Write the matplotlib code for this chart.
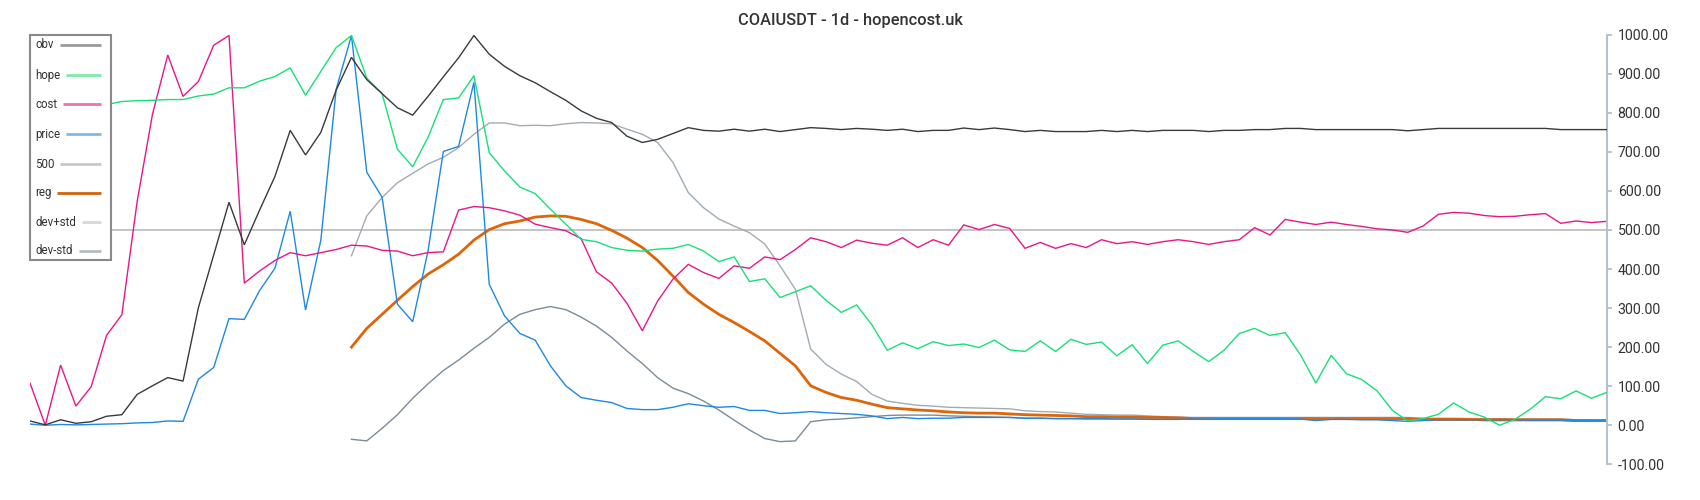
import numpy as np
import matplotlib
matplotlib.use("Agg")
import matplotlib.pyplot as plt
from matplotlib.lines import Line2D
from matplotlib.patches import Rectangle
from matplotlib.ticker import FixedLocator, FuncFormatter

plt.rcParams['font.family'] = ['Roboto', 'DejaVu Sans']

nan = np.nan

obv = [11, 1, 14, 5, 9, 23, 27, 79, 101, 122, 113, 301, 436, 571, 462, 551, 637, 755, 692, 750,
       858, 942, 885, 849, 813, 794, 842, 892, 941, 998, 950, 919, 895, 877, 854, 832, 805, 786, 775, 740,
       724, 732, 747, 762, 755, 753, 758, 753, 758, 752, 757, 762, 760, 757, 760, 758, 755, 758, 752, 755,
       755, 761, 757, 761, 757, 752, 755, 752, 752, 752, 755, 752, 755, 752, 755, 755, 755, 752, 755, 755,
       757, 757, 760, 760, 757, 757, 757, 757, 757, 757, 754, 757, 760, 760, 760, 760, 760, 760, 760, 760,
       757, 757, 757, 757]

hope = [800, 808, 812, 815, 818, 821, 829, 831, 832, 834, 834, 843, 848, 864, 864, 881, 893, 915, 845, 906,
        967, 998, 889, 849, 707, 662, 737, 834, 838, 895, 698, 651, 610, 593, 553, 515, 476, 470, 455, 448,
        446, 451, 453, 463, 446, 419, 431, 368, 375, 327, 342, 357, 320, 289, 308, 257, 192, 211, 196, 214,
        204, 208, 199, 218, 193, 189, 216, 189, 220, 207, 213, 178, 206, 158, 205, 216, 189, 163, 192, 235,
        248, 230, 237, 180, 108, 179, 132, 117, 88, 38, 11, 17, 28, 57, 34, 21, 0, 15, 41, 73,
        68, 88, 69, 84]

cost = [108, 0, 154, 49, 99, 230, 283, 573, 796, 948, 842, 880, 973, 998, 364, 395, 422, 442, 434, 442,
        450, 461, 459, 448, 446, 434, 442, 444, 551, 560, 557, 549, 538, 515, 506, 498, 478, 393, 364, 312,
        242, 318, 374, 412, 391, 376, 408, 402, 431, 424, 450, 480, 470, 455, 474, 466, 461, 480, 455, 475,
        461, 513, 501, 514, 504, 453, 468, 453, 465, 455, 475, 465, 470, 463, 470, 475, 470, 463, 470, 475,
        506, 487, 527, 520, 514, 520, 514, 509, 503, 500, 494, 510, 540, 545, 543, 537, 534, 535, 539, 542,
        517, 523, 519, 522]

price = [3, 0, 2, 1, 2, 3, 4, 6, 7, 11, 10, 118, 148, 273, 271, 345, 402, 548, 295, 474,
         860, 998, 648, 584, 310, 265, 446, 701, 714, 878, 361, 280, 235, 218, 152, 101, 71, 64, 58, 43,
         40, 40, 46, 55, 50, 46, 48, 38, 38, 30, 32, 35, 32, 30, 28, 24, 17, 20, 17, 18,
         18, 20, 20, 20, 20, 18, 18, 17, 17, 17, 17, 16, 16, 15, 15, 15, 16, 16, 17, 17,
         17, 17, 17, 16, 12, 15, 15, 14, 14, 12, 10, 12, 14, 14, 14, 14, 14, 14, 13, 13,
         13, 12, 12, 12]

level500 = [500] * 104

reg = [nan] * 21 + [200, 248, 284, 320, 355, 387, 411, 438, 474,
       501, 516, 523, 533, 536, 535, 527, 516, 499, 479, 455, 422, 382, 340, 310, 284, 263, 240, 216, 184,
       152, 101, 84, 71, 64, 54, 45, 42, 39, 37, 34, 32, 31, 31, 29, 27, 26, 25, 24, 22,
       22, 21, 21, 20, 20, 19, 17, 17, 17, 17, 17, 17, 17, 17, 17, 17, 17, 17, 17, 17,
       17, 15, 15, 15, 15, 14, 14, 14, 14, 14, 14, 12, 12, 12]

dev_plus = [nan] * 21 + [434, 536, 583, 621, 645, 669, 686, 711, 745,
            774, 774, 767, 768, 767, 772, 775, 774, 772, 758, 745, 724, 673, 596, 557, 528, 510, 493, 464, 408,
            348, 195, 156, 131, 112, 79, 62, 56, 51, 49, 46, 45, 44, 43, 42, 37, 35, 34, 31, 28,
            27, 26, 26, 24, 22, 21, 20, 20, 20, 20, 20, 20, 20, 20, 20, 20, 20, 20, 20, 20,
            20, 18, 18, 18, 17, 17, 17, 16, 16, 16, 16, 14, 14, 14]

dev_minus = [nan] * 21 + [-36, -40, -8, 27, 69, 106, 140, 167, 197,
             225, 259, 284, 296, 304, 296, 277, 254, 225, 190, 158, 122, 95, 81, 62, 39, 13, -12, -34, -42,
             -40, 9, 14, 16, 19, 22, 25, 26, 26, 26, 24, 23, 22, 21, 20, 18, 18, 17, 17, 16,
             16, 16, 16, 16, 16, 16, 15, 15, 15, 15, 15, 15, 15, 15, 15, 15, 15, 15, 15, 15,
             15, 13, 13, 13, 13, 12, 12, 12, 12, 12, 12, 10, 10, 10]

y_ticks = [-100, 0, 100, 200, 300, 400, 500, 600, 700, 800, 900, 1000]
title = "COAIUSDT - 1d - hopencost.uk"

series = [
    ("obv", obv, "#3a3a3a", 1.0, "#9a9a9a"),
    ("hope", hope, "#17e07a", 1.0, "#80eaa8"),
    ("cost", cost, "#e8168a", 1.0, "#ef72b4"),
    ("price", price, "#1e88e5", 1.0, "#7db9ef"),
    ("500", level500, "#c4c4c4", 1.4, "#c8c8c8"),
    ("reg", reg, "#de6508", 2.0, "#d0620c"),
    ("dev+std", dev_plus, "#a2abb4", 1.0, "#d4d8dc"),
    ("dev-std", dev_minus, "#7b8b9a", 1.0, "#b2bcc4"),
]

W, H = 1700, 500
fig = plt.figure(figsize=(W / 100, H / 100), dpi=100)
x0, x1 = 30, 1606.7
ytop, ybot = 34.7, 464.3
ax = fig.add_axes([x0 / W, 1 - ybot / H, (x1 - x0) / W, (ybot - ytop) / H])

x = np.arange(len(obv))
draw_order = ["500", "dev+std", "dev-std", "reg", "price", "cost", "hope", "obv"]
for name, vals, col, lw, _ in series:
    z = 2 + draw_order.index(name) * 0.1
    ax.plot(x, vals, color=col, lw=lw, zorder=z, solid_joinstyle='miter' if name != 'reg' else 'round')

ax.set_xlim(0, len(obv) - 1)
ax.set_ylim(-100, 1000)
for s in ["top", "left", "bottom"]:
    ax.spines[s].set_visible(False)
ax.spines["right"].set_color("#b8c0c8")
ax.spines["right"].set_linewidth(1.5)
ax.xaxis.set_visible(False)
ax.yaxis.tick_right()
ax.yaxis.set_major_locator(FixedLocator(y_ticks))
ax.yaxis.set_major_formatter(FuncFormatter(lambda v, p: f"{v:.2f}"))
ax.tick_params(axis='y', length=3.6, width=1.3, color="#b8c0c8", pad=4.3,
               labelsize=10.2, labelcolor="#333333")
ax.patch.set_alpha(0)

fig.text(850 / W, 1 - 20.5 / H, title, ha='center', va='center', fontsize=11.8,
         fontweight='medium', color='#333333')

# legend box
def fx(px):
    return px / W

def fy(py):
    return 1 - py / H

box = Rectangle((fx(30), fy(260)), (111 - 30) / W, (260 - 34.7) / H, transform=fig.transFigure,
                facecolor='white', edgecolor='#8a8a8a', lw=1.5, zorder=5)
fig.add_artist(box)
ys = [44.7, 75, 104, 134.3, 164, 192.7, 222, 250.7]
starts = [60, 66, 63.3, 66, 60, 57.3, 81.7, 79]
for (name, _, _, _, lcol), yy, xs in zip(series, ys, starts):
    fig.text(fx(35), fy(yy), name, ha='left', va='center', fontsize=8.3, color='#333333', zorder=6)
    fig.add_artist(Line2D([fx(xs), fx(100.7)], [fy(yy), fy(yy)], transform=fig.transFigure,
                          color=lcol, lw=2.0, zorder=6, solid_capstyle='butt'))

fig.savefig("out.png", dpi=100, facecolor='white')
